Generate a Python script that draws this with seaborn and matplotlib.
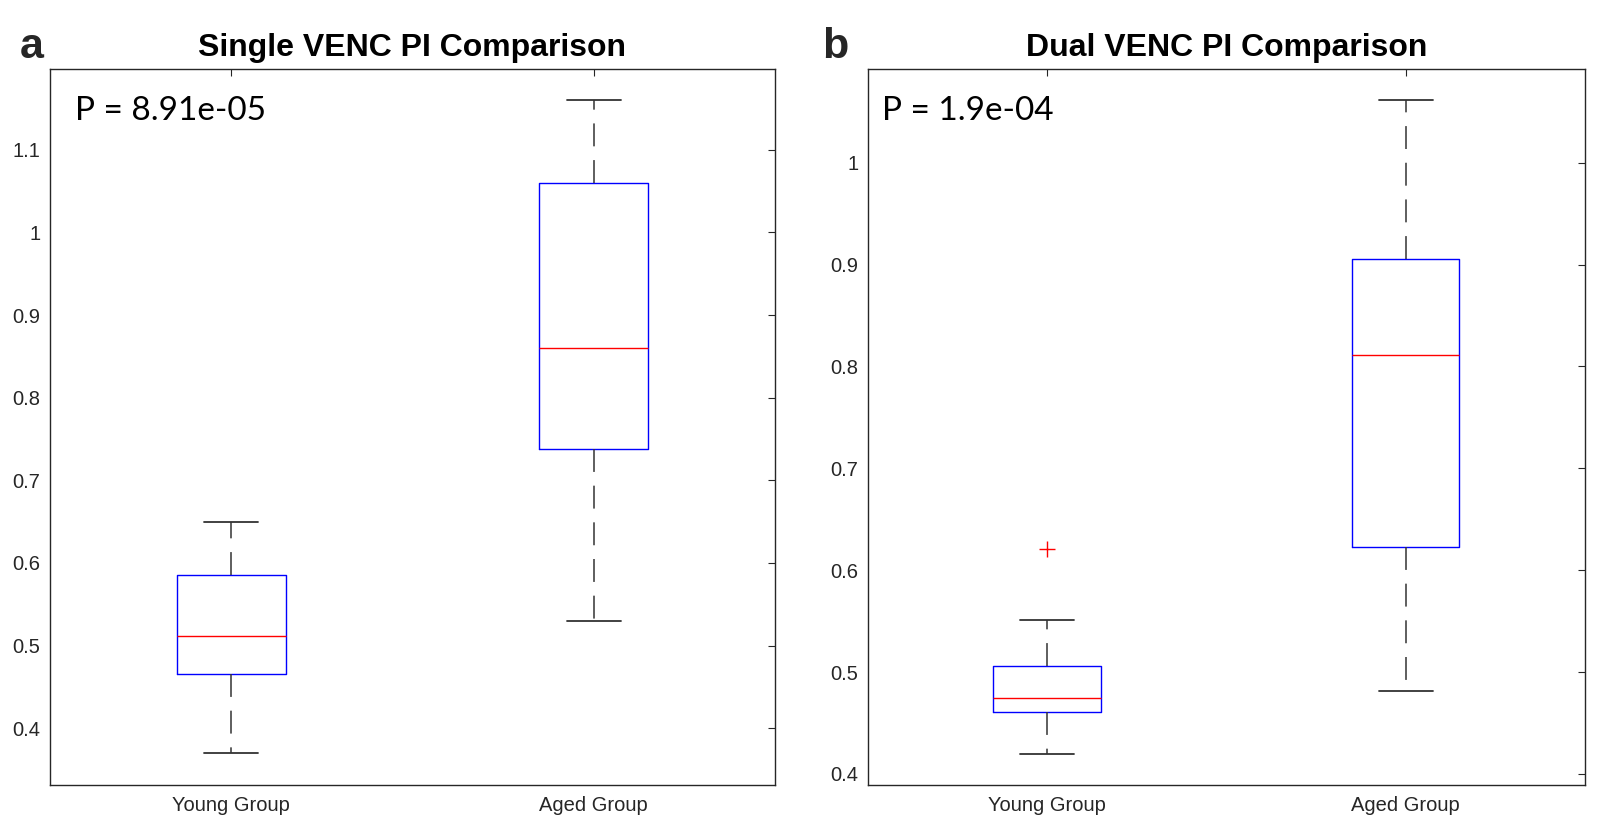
import matplotlib
matplotlib.use("Agg")
import matplotlib.pyplot as plt
import seaborn as sns

# ---- data ----
groups = ["Young Group", "Aged Group"]

single_whislo = [0.370, 0.530]
single_q1 = [0.465, 0.738]
single_med = [0.511, 0.860]
single_q3 = [0.585, 1.060]
single_whishi = [0.650, 1.160]
single_fliers = [[], []]

dual_whislo = [0.420, 0.481]
dual_q1 = [0.461, 0.623]
dual_med = [0.475, 0.811]
dual_q3 = [0.506, 0.905]
dual_whishi = [0.551, 1.061]
dual_fliers = [[0.621], []]

single_ticks = [0.4, 0.5, 0.6, 0.7, 0.8, 0.9, 1.0, 1.1]
single_ticklabels = ["0.4", "0.5", "0.6", "0.7", "0.8", "0.9", "1", "1.1"]
dual_ticks = [0.4, 0.5, 0.6, 0.7, 0.8, 0.9, 1.0]
dual_ticklabels = ["0.4", "0.5", "0.6", "0.7", "0.8", "0.9", "1"]

titles = ["Single VENC PI Comparison", "Dual VENC PI Comparison"]
panel_labels = ["a", "b"]
p_texts = ["P = 8.91e-05", "P = 1.9e-04"]

# ---- style ----
sns.set_theme(style="white")
plt.rcParams["font.family"] = ["Liberation Sans", "DejaVu Sans"]

fig = plt.figure(figsize=(16.16, 8.30), dpi=100)
ax1 = fig.add_axes([0.0309, 0.054, 0.4487, 0.863])
ax2 = fig.add_axes([0.5371, 0.054, 0.4437, 0.863])


def build_stats(whislo, q1, med, q3, whishi, fliers):
    return [
        dict(label=g, whislo=a, q1=b, med=c, q3=d, whishi=e, fliers=f)
        for g, a, b, c, d, e, f in zip(groups, whislo, q1, med, q3, whishi, fliers)
    ]


def draw(ax, stats, ylim, ticks, ticklabels, title, ptext, ptext_x):
    ax.bxp(
        stats,
        positions=[1, 2],
        widths=0.3,
        showfliers=True,
        boxprops=dict(color="#0000ff", linewidth=1.0),
        medianprops=dict(color="#ff0000", linewidth=1.0),
        whiskerprops=dict(color="#333333", linewidth=1.1, linestyle=(0, (15, 9))),
        capprops=dict(color="#333333", linewidth=1.3),
        flierprops=dict(marker="+", markeredgecolor="#ff0000", markersize=11,
                        markeredgewidth=1.0, linestyle="none"),
    )
    ax.set_xlim(0.5, 2.5)
    ax.set_ylim(*ylim)
    ax.set_xticks([1, 2])
    ax.set_xticklabels(groups)
    ax.set_yticks(ticks)
    ax.set_yticklabels(ticklabels)
    ax.tick_params(axis="both", which="both", direction="in", length=5,
                   width=0.8, color="#262626", labelsize=14.5,
                   labelcolor="#262626", top=True, right=True, pad=7)
    ax.tick_params(axis="x", pad=8)
    for s in ax.spines.values():
        s.set_color("#262626")
        s.set_linewidth(1.0)
        s.set_visible(True)
    ax.set_title(title, fontsize=23, fontweight="bold", pad=9, color="black")
    ax.text(ptext_x, 0.941, ptext, transform=ax.transAxes, fontsize=24,
            family=["Lato", "DejaVu Sans"], va="center", ha="left", color="black")
    ax.grid(False)


draw(ax1, build_stats(single_whislo, single_q1, single_med, single_q3, single_whishi, single_fliers),
     (0.331, 1.198), single_ticks, single_ticklabels, titles[0], p_texts[0], 0.034)
draw(ax2, build_stats(dual_whislo, dual_q1, dual_med, dual_q3, dual_whishi, dual_fliers),
     (0.389, 1.092), dual_ticks, dual_ticklabels, titles[1], p_texts[1], 0.02)

fig.text(32 / 1616, 1 - 58 / 830, panel_labels[0], fontsize=31, fontweight="bold",
         ha="center", va="baseline")
fig.text(835 / 1616, 1 - 58 / 830, panel_labels[1], fontsize=31, fontweight="bold",
         ha="center", va="baseline")

fig.savefig("out.png", dpi=100)
